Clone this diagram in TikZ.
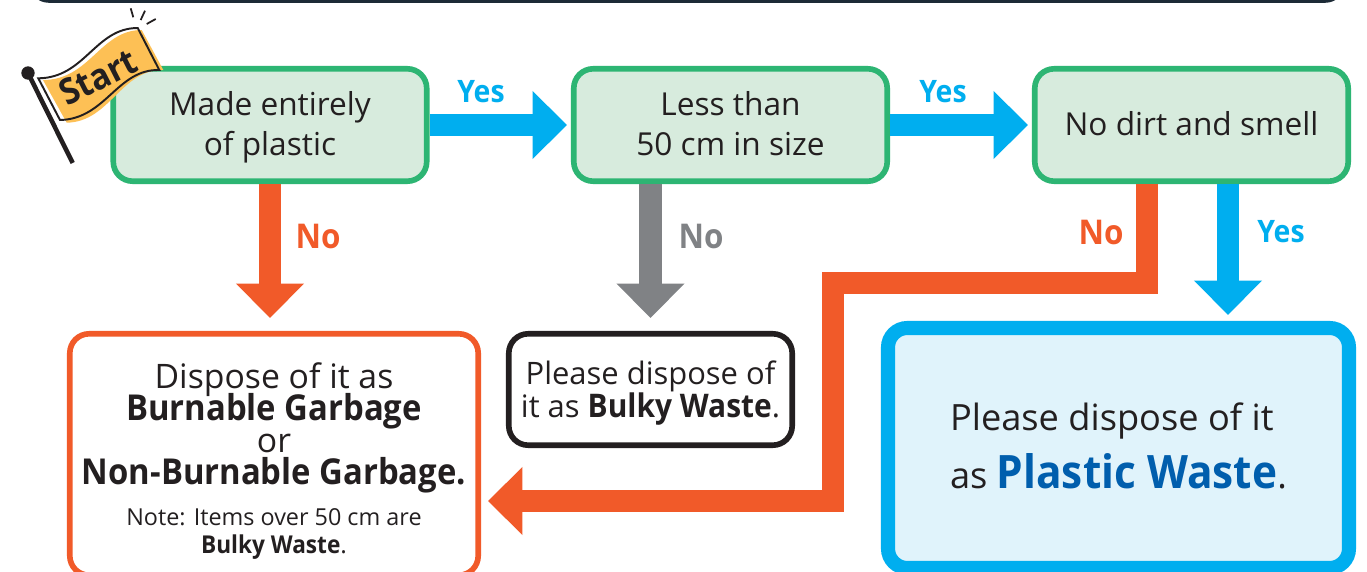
\documentclass[tikz,border=0pt]{standalone}
\usepackage{fontspec}
\setmainfont{Open Sans}[BoldFeatures={FakeStretch=0.92}]
\usetikzlibrary{arrows.meta}

\definecolor{boxgreen}{HTML}{2DB573}
\definecolor{palegreen}{HTML}{D7EBDD}
\definecolor{cyanblue}{HTML}{00AEEF}
\definecolor{paleblue}{HTML}{E0F3FB}
\definecolor{deepblue}{HTML}{005EAD}
\definecolor{redorange}{HTML}{F15A29}
\definecolor{midgrey}{HTML}{808285}
\definecolor{inkblack}{HTML}{231F20}
\definecolor{flagyellow}{HTML}{FDC055}
\definecolor{barfill}{HTML}{4F97AE}
\definecolor{barline}{HTML}{1C2A36}

\newcommand{\tightlines}{\setlength{\lineskiplimit}{-10pt}}

\tikzset{
  question/.style={draw=boxgreen, fill=palegreen, line width=1.6pt, rounded corners=5.5pt,
    minimum width=3.134cm, minimum height=1.124cm, align=center, text=inkblack, text depth=0.7pt,
    font=\fontsize{9pt}{11.3pt}\selectfont},
  result/.style={draw=#1, line width=1.6pt, rounded corners=5.5pt, inner sep=0pt,
    align=center, text=inkblack},
  bigarrow/.style={draw=#1, line width=6.4pt,
    -{Triangle[length=9.8pt, width=18.8pt, color=#1]}},
  yeslabel/.style={text=cyanblue, font=\fontsize{8.8pt}{11pt}\selectfont\bfseries},
  nolabel/.style={text=#1, font=\fontsize{9.7pt}{11pt}\selectfont\bfseries}
}

\begin{document}
\begin{tikzpicture}
  \clip (0,0) rectangle (13.67,5.71);
  \fill[white] (0,0) rectangle (13.67,5.71);

  % bar cut off at the top
  \draw[draw=barline, fill=barfill, line width=1pt, rounded corners=5pt] (0.31,5.95) rectangle (13.43,5.70);

  % questions
  \node[question] (plastic) at (2.70,4.46) {Made entirely\\of plastic};
  \node[question] (size) at (7.305,4.46) {Less than\\50 cm in size};
  \node[question] (dirt) at (11.915,4.46) {No dirt and smell};

  % results, two of them cut off by the lower edge
  \node[result=redorange, fill=white, minimum width=4.084cm, minimum height=2.414cm, text depth=0pt,
    font=\fontsize{9.6pt}{9.1pt}\selectfont\tightlines] (burnable) at (2.74,1.165)
    {\rule{0pt}{9.2pt}Dispose of it as\\
     {\fontsize{10.15pt}{9.1pt}\selectfont\textbf{Burnable Garbage}}\\or\\
     {\fontsize{10.15pt}{9.1pt}\selectfont\textbf{Non-Burnable Garbage.}}\\[2.6pt]
     {\fontsize{6.65pt}{8pt}\selectfont Note: Items over 50 cm are}\\[-1.1pt]
     {\fontsize{7pt}{8pt}\selectfont\textbf{Bulky Waste}.}};
  \node[result=inkblack, fill=white, minimum width=2.834cm, minimum height=1.114cm, text depth=0pt,
    font=\fontsize{8.8pt}{9.3pt}\selectfont\tightlines] (bulky) at (6.505,1.815)
    {Please dispose of\\it as {\fontsize{9.25pt}{9.3pt}\selectfont\textbf{Bulky Waste}}.};
  \node[result=cyanblue, fill=paleblue, line width=4pt, rounded corners=5.5pt, align=left,
    minimum width=4.61cm, minimum height=2.40cm, text depth=1.2pt,
    font=\fontsize{10.3pt}{16.5pt}\selectfont] (plasticwaste) at (11.185,1.23)
    {Please dispose of it\\
     as {\fontsize{13.1pt}{16.5pt}\selectfont\bfseries\color{deepblue} Plastic Waste}.};

  % connector start points
  \coordinate (dirtno) at (11.47,3.87);
  \coordinate (dirtyes) at (12.28,3.87);

  % connectors
  \draw[bigarrow=cyanblue, shorten >=0.04cm] (plastic) -- (size);
  \draw[bigarrow=cyanblue, shorten >=0.04cm] (size) -- (dirt);
  \draw[bigarrow=redorange, shorten >=0.13cm] (plastic.south) -- (plastic.south |- burnable.north);
  \draw[bigarrow=midgrey, shorten >=0.13cm] (bulky.north |- size.south) -- (bulky.north);
  \draw[bigarrow=cyanblue, shorten >=0.06cm] (dirtyes) -- (dirtyes |- plasticwaste.north);
  \draw[bigarrow=redorange, shorten >=0.07cm] (dirtno) |- (8.33,2.88) |- (burnable.east |- 0,0.70);

  % labels on the connectors
  \node[yeslabel] (yesa) at (4.81,4.79) {Yes};
  \node[yeslabel] (yesb) at (9.43,4.79) {Yes};
  \node[yeslabel] (yesc) at (12.81,3.39) {Yes};
  \node[nolabel=redorange] (noa) at (3.18,3.35) {No};
  \node[nolabel=midgrey] (nob) at (7.01,3.35) {No};
  \node[nolabel=redorange] (noc) at (11.01,3.39) {No};

  % start flag
  \draw[inkblack, line width=1.3pt] (0.28,4.98) -- (0.727,4.08);
  \fill[inkblack] (0.28,4.98) circle [radius=0.067];
  \fill[flagyellow] (0.43,4.91) .. controls (0.90,4.91) and (1.00,5.41) .. (1.417,5.41)
    -- (1.633,5.01) .. controls (1.21,5.02) and (1.10,4.49) .. (0.667,4.483) -- cycle;
  \draw[inkblack, line width=0.55pt] (0.383,4.927) .. controls (0.85,4.93) and (0.95,5.43) .. (1.377,5.43)
    -- (1.593,5.01) .. controls (1.17,5.02) and (1.06,4.52) .. (0.60,4.51) -- cycle;
  \node[rotate=27, text=inkblack, font=\fontsize{10.2pt}{11pt}\selectfont\bfseries] (startlabel) at (0.98,4.94) {Start};
  \draw[inkblack, line width=0.5pt] (1.307,5.627) -- (1.333,5.537);
  \draw[inkblack, line width=0.5pt] (1.45,5.603) -- (1.407,5.51);
  \draw[inkblack, line width=0.5pt] (1.557,5.52) -- (1.467,5.47);
\end{tikzpicture}
\end{document}
